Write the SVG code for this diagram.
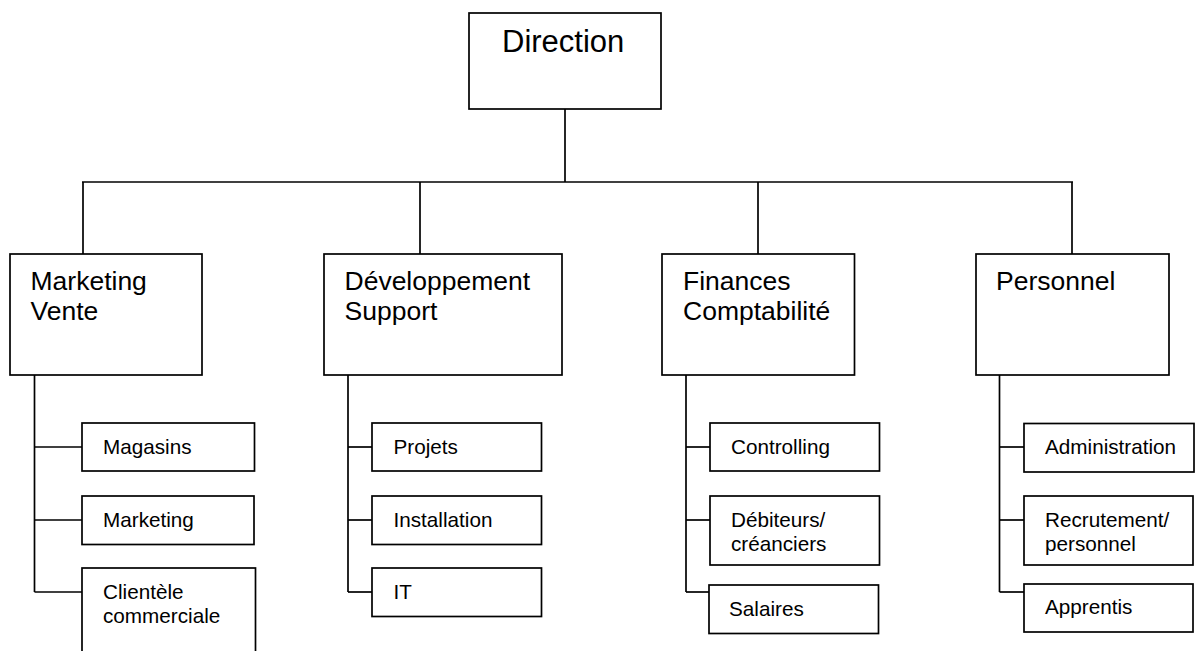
<svg xmlns="http://www.w3.org/2000/svg" width="1195" height="651" viewBox="0 0 1195 651">
<style>
rect{fill:#fff;stroke:#000;stroke-width:1.7}
.c line{stroke:#000;stroke-width:1.7}
text{font-family:"Liberation Sans",Arial,sans-serif;fill:#000}
.t0{font-size:31px}
.t1{font-size:26.5px}
.t2{font-size:20.7px}
</style>
<rect x="0" y="0" width="1195" height="651" style="stroke:none"/>
<g class="c" id="connectors">
<line x1="565" y1="109" x2="565" y2="182"/>
<line x1="82" y1="182" x2="1073" y2="182"/>
<line x1="83" y1="182" x2="83" y2="254"/>
<line x1="420" y1="182" x2="420" y2="254"/>
<line x1="758" y1="182" x2="758" y2="254"/>
<line x1="1072" y1="182" x2="1072" y2="254"/>
<line x1="34.5" y1="375" x2="34.5" y2="592"/>
<line x1="34.5" y1="447" x2="82" y2="447"/>
<line x1="34.5" y1="520" x2="82" y2="520"/>
<line x1="34.5" y1="592" x2="82" y2="592"/>
<line x1="348" y1="375" x2="348" y2="592"/>
<line x1="348" y1="447" x2="372" y2="447"/>
<line x1="348" y1="520" x2="372" y2="520"/>
<line x1="348" y1="592" x2="372" y2="592"/>
<line x1="686" y1="375" x2="686" y2="592"/>
<line x1="686" y1="447" x2="710" y2="447"/>
<line x1="686" y1="520" x2="710" y2="520"/>
<line x1="686" y1="592" x2="709" y2="592"/>
<line x1="999.5" y1="375" x2="999.5" y2="592"/>
<line x1="999.5" y1="447" x2="1024" y2="447"/>
<line x1="999.5" y1="520" x2="1024" y2="520"/>
<line x1="999.5" y1="592" x2="1024" y2="592"/>
</g>
<g id="direction"><rect x="469" y="13" width="192" height="96"/><text class="t0" x="502" y="52">Direction</text></g>
<g id="marketing-vente"><rect x="10" y="254" width="192" height="121"/><text class="t1" x="30.5" y="290">Marketing</text><text class="t1" x="30.5" y="320">Vente</text></g>
<g id="developpement-support"><rect x="324" y="254" width="238" height="121"/><text class="t1" x="344.5" y="290">Développement</text><text class="t1" x="344.5" y="320">Support</text></g>
<g id="finances-comptabilite"><rect x="662" y="254" width="192.5" height="121"/><text class="t1" x="683" y="290">Finances</text><text class="t1" x="683" y="319.5">Comptabilité</text></g>
<g id="personnel"><rect x="976" y="254" width="193" height="121"/><text class="t1" x="996" y="290">Personnel</text></g>
<g id="magasins"><rect x="82" y="423" width="172.5" height="48"/><text class="t2" x="103" y="454">Magasins</text></g>
<g id="marketing"><rect x="82" y="496" width="172" height="48.5"/><text class="t2" x="103" y="527">Marketing</text></g>
<g id="clientele"><rect x="82" y="568" width="173.5" height="100"/><text class="t2" x="103" y="598.5">Clientèle</text><text class="t2" x="103" y="622.5">commerciale</text></g>
<g id="projets"><rect x="372" y="423" width="169.5" height="48"/><text class="t2" x="393.5" y="454">Projets</text></g>
<g id="installation"><rect x="372" y="496" width="169.5" height="48.5"/><text class="t2" x="393.5" y="527">Installation</text></g>
<g id="it"><rect x="372" y="568" width="169.5" height="48.5"/><text class="t2" x="393.5" y="599">IT</text></g>
<g id="controlling"><rect x="710" y="423" width="169.5" height="48"/><text class="t2" x="731" y="454">Controlling</text></g>
<g id="debiteurs"><rect x="710" y="496" width="169.5" height="69"/><text class="t2" x="731" y="527">Débiteurs/</text><text class="t2" x="731" y="551">créanciers</text></g>
<g id="salaires"><rect x="709" y="585" width="169.5" height="48.5"/><text class="t2" x="729" y="616">Salaires</text></g>
<g id="administration"><rect x="1024" y="423.5" width="170" height="48.5"/><text class="t2" x="1045" y="454">Administration</text></g>
<g id="recrutement"><rect x="1024" y="496" width="169" height="69"/><text class="t2" x="1045" y="527">Recrutement/</text><text class="t2" x="1045" y="551">personnel</text></g>
<g id="apprentis"><rect x="1024" y="584" width="169" height="48"/><text class="t2" x="1045" y="613.5">Apprentis</text></g>
</svg>
